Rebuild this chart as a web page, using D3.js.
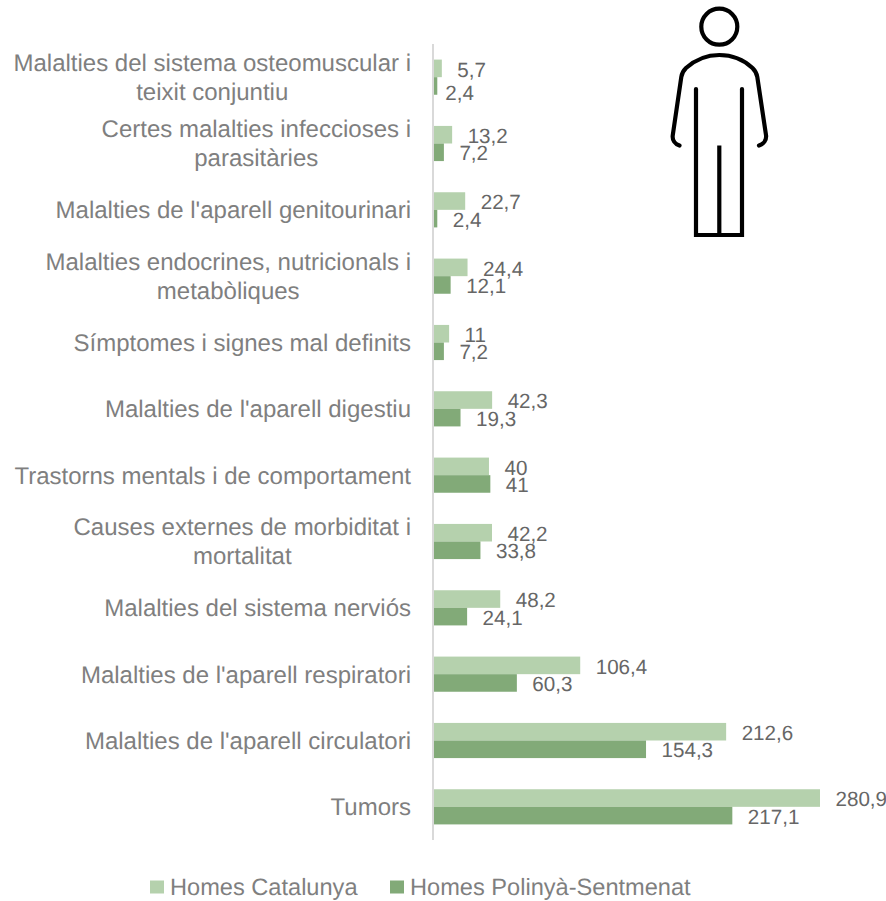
<!DOCTYPE html>
<html>
<head>
<meta charset="utf-8">
<script src="https://cdn.jsdelivr.net/npm/d3@7"></script>
<style>html,body{margin:0;padding:0;background:#fff}svg{display:block}text{font-family:"Liberation Sans",Arial,sans-serif;text-rendering:geometricPrecision}</style>
</head>
<body>
<svg id="c" width="886" height="901"></svg>
<script>
const categories = [
  ["Malalties del sistema osteomuscular i","teixit conjuntiu"],
  ["Certes malalties infeccioses i","parasitàries"],
  ["Malalties de l'aparell genitourinari"],
  ["Malalties endocrines, nutricionals i","metabòliques"],
  ["Símptomes i signes mal definits"],
  ["Malalties de l'aparell digestiu"],
  ["Trastorns mentals i de comportament"],
  ["Causes externes de morbiditat i","mortalitat"],
  ["Malalties del sistema nerviós"],
  ["Malalties de l'aparell respiratori"],
  ["Malalties de l'aparell circulatori"],
  ["Tumors"]
];
const seriesNames = ["Homes Catalunya","Homes Polinyà-Sentmenat"];
const catalunya = [5.7,13.2,22.7,24.4,11,42.3,40,42.2,48.2,106.4,212.6,280.9];
const polinya = [2.4,7.2,2.4,12.1,7.2,19.3,41,33.8,24.1,60.3,154.3,217.1];
const colors = ["#b5d1ad","#82aa78"];

const svg = d3.select("#c");
const x = d3.scaleLinear().domain([0,280.9]).range([434,820]);
const y = d3.scaleBand().domain(d3.range(categories.length)).range([44,840]).paddingInner(0.47).paddingOuter(0.235);
const fmt = v => String(v).replace(".",",");

[catalunya,polinya].forEach((vals,s)=>{
  const bh = y.bandwidth()/2;
  svg.append("g").selectAll("rect").data(vals).join("rect")
    .attr("x",x(0)).attr("y",(d,i)=>y(i)+s*bh)
    .attr("width",d=>x(d)-x(0)).attr("height",bh).attr("fill",colors[s]);
  svg.append("g").selectAll("text").data(vals).join("text")
    .attr("x",(d,i)=>x(d)+((i===0&&s===1)?8:15.5))
    .attr("y",(d,i)=>y(i)+s*bh+bh/2+((i===0&&s===1)?7:1))
    .attr("dy","0.35em").attr("font-size",20.6).attr("fill","#666666")
    .text(fmt);
});

svg.append("line").attr("x1",433).attr("x2",433).attr("y1",44).attr("y2",840)
  .attr("stroke","#d9d9d9").attr("stroke-width",2);

const lh = 29;
categories.forEach((lines,i)=>{
  const cy = y(i)+y.bandwidth()/2;
  const g = svg.append("g");
  const ts = lines.map((l,j)=>g.append("text").attr("font-size",24).attr("fill","#7f7f7f")
    .attr("y",cy+(j-(lines.length-1)/2)*lh).attr("dy","0.35em").text(l));
  const w = ts[0].node().getComputedTextLength();
  ts.forEach(t=>t.attr("text-anchor","middle").attr("x",411-w/2));
});

const legendX = [150,390];
seriesNames.forEach((n,i)=>{
  svg.append("rect").attr("x",legendX[i]).attr("y",880.5).attr("width",14).attr("height",13).attr("fill",colors[i]);
  svg.append("text").attr("x",legendX[i]+20).attr("y",887).attr("dy","0.35em")
    .attr("font-size",23.6).attr("fill","#7f7f7f").text(n);
});

const icon = svg.append("g").attr("fill","none").attr("stroke","#000").attr("stroke-width",4.2);
icon.append("circle").attr("cx",719.3).attr("cy",26.7).attr("r",18);
icon.append("path").attr("stroke-linecap","round").attr("stroke-linejoin","round")
  .attr("d","M679.5,145.5C675,144,672,140,672.8,135L681.3,77Q682,72 686,68C695,60 707,55 719.3,55C732,55 744,60 752.5,68Q756.5,72 757.3,77L766,135C766.8,140,763.5,144,759,145.5");
icon.append("path").attr("stroke-linejoin","miter")
  .attr("d","M696,89V235H742V89");
icon.append("path").attr("stroke-linecap","round").attr("d","M696,89V89M742,89V89");
icon.append("path").attr("d","M719.3,145.5V235");
</script>
</body>
</html>
